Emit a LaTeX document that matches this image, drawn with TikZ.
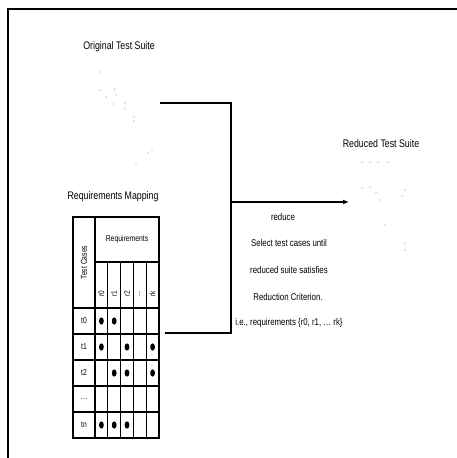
\documentclass[tikz,border=0pt]{standalone}
\usepackage{fontspec}
\setmainfont{Liberation Sans}[FakeStretch=0.8]
\usetikzlibrary{arrows.meta,positioning}
\tikzstyle{title}=[font=\fontsize{11}{13}\selectfont, inner sep=0pt]
\tikzstyle{note}=[font=\fontsize{9.8}{11}\selectfont, inner sep=0pt]
\tikzstyle{cell}=[draw, line width=1.1pt, minimum width=12.8pt, minimum height=26pt, inner sep=0pt, font=\fontsize{8.5}{10}\selectfont]
\tikzstyle{speck}=[fill=black!45]

\begin{document}
\begin{tikzpicture}[x=1pt, y=-1pt]
        \useasboundingbox (0,0) rectangle (457,458);
        \draw[line width=1.2pt] (8,458) -- (8,9) -- (457,9);
        \node[title] (origlbl) at (119,47) {Original Test Suite};
        \foreach \px/\py in {100/72,100/90,106/97,115/89,116/95,113/104,125/103,125/109,134/117,134/121,148/153,152/150,136/163}{
          \fill[speck] (\px,\py) circle (0.7pt);
        }
        \node[title] (redlbl) at (381,144) {Reduced Test Suite};
        \foreach \px/\py in {362/162,370/162,378/162,388/162,362/188,370/187,376/193,380/200,392/200,402/196,405/190,385/225,405/243,405/250}{
          \fill[speck] (\px,\py) circle (0.7pt);
        }
        \node[title] (maplbl) at (113,197) {Requirements Mapping};
        \node[cell, minimum width=22pt, minimum height=91pt] (tc) at (84,262.5) {\rotatebox{90}{Test Cases}};
        \node[cell, minimum width=64pt, minimum height=45pt] (req) at (127,239.5) {Requirements};
        \foreach \lbl/\i in {r0/0,r1/1,r2/2,\ldots/3,rk/4}{
          \node[cell, minimum height=46pt] (r\i) at (101.4+12.8*\i,285) {};
          \node[font=\fontsize{8}{9}\selectfont, rotate=90, inner sep=0pt] at (101.4+12.8*\i,294) {\lbl};
        }
        \foreach \t/\j in {t0/0,t1/1,t2/2,\ldots/3,tn/4}{
          \node[cell, minimum width=22pt] (t\j) at (84,321+26*\j) {\t};
          \foreach \i in {0,1,2,3,4}
            \node[cell] (c\j\i) at (101.4+12.8*\i,321+26*\j) {};
        }
        \foreach \c in {00,01,10,12,14,21,22,24,40,41,42}
          \fill (c\c) ellipse (2.4pt and 3.6pt);
        \coordinate (origout) at (160,103);
        \coordinate (tabout) at (165,333);
        \coordinate (join) at (231,202);
        \coordinate (redin) at (349,202);
        \draw[line width=1.2pt] (origout) -| (join);
        \draw[line width=1.2pt] (tabout) -| (join);
        \draw[line width=1.2pt, -{Latex[length=6pt, width=5pt]}] (join) -- (redin);
        \node[note] (reduce) at (283,217) {reduce};
        \node[note] (sel1) at (289,243) {Select test cases until};
        \node[note] (sel2) at (289,270) {reduced suite satisfies};
        \node[note] (sel3) at (288,297) {Reduction Criterion.};
        \node[note] (sel4) at (289,323) {i.e., requirements \{r0, r1, \ldots\ rk\}};
      \end{tikzpicture}
\end{document}
